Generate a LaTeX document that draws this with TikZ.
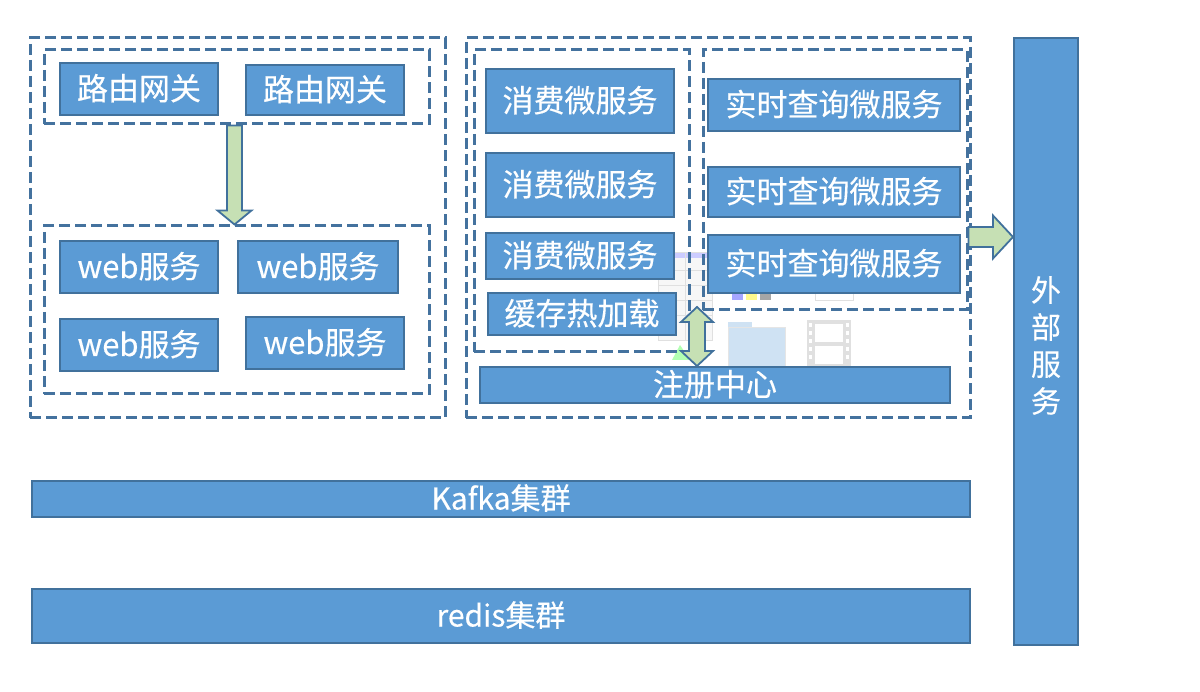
\documentclass[tikz,border=0pt]{standalone}
\usepackage{fontspec}
\setmainfont{Noto Sans CJK SC}[FakeBold=0.35]
\usetikzlibrary{calc,fit}
\definecolor{svcfill}{HTML}{5B9BD5}
\definecolor{svcline}{HTML}{41719C}
\definecolor{dashline}{HTML}{44729E}
\definecolor{arrfill}{HTML}{C6E0B4}
\definecolor{iconblue}{HTML}{CFE2F3}
\begin{document}
\begin{tikzpicture}[x=1pt,y=-1pt,
  svc/.style={draw=svcline, line width=2pt, fill=svcfill, inner sep=0pt},
  grp/.style={draw=dashline, line width=3pt, dash pattern=on 11pt off 5pt, inner sep=0pt},
  blk/.style={draw=svcline, line width=1.8pt, fill=arrfill, line join=miter},
  lbl/.style={text=white, inner sep=0pt, font=\fontsize{31}{36}\selectfont},
  faint/.style={draw=black!12, line width=0.8pt}]
\useasboundingbox (0,0) rectangle (1200,692);
% faint background icons
\fill[black!3] (658,252) rectangle (712,340);
\fill[blue!20] (658,252) rectangle (712,258);
\draw[faint] (658,252) rectangle (712,340);
\foreach \yy in {270,285,300,315} \draw[faint] (658,\yy) -- (712,\yy);
\draw[faint] (685,252) -- (685,340);
\fill[green!30] (672,360) -- (680,345) -- (690,360) -- cycle;
\fill[blue!35] (732,292) rectangle (743,300);
\fill[yellow!45] (746,292) rectangle (757,300);
\fill[black!35] (760,292) rectangle (771,300);
\draw[faint] (815,292) rectangle (853,300);
\fill[iconblue] (728,322) rectangle (752,330);
\fill[iconblue] (728,327) rectangle (785,367);
\draw[black!10] (728,327) rectangle (785,367);
\fill[black!12] (807,320) rectangle (851,367);
\fill[white] (815,324) rectangle (843,342);
\fill[white] (815,346) rectangle (843,364);
\foreach \yy in {323,331,339,347,355} {\fill[white] (809,\yy) rectangle (812,\yy+4); \fill[white] (846,\yy) rectangle (849,\yy+4);}
% groups
\node[grp, fit={(30,38) (445,418)}] (grpL) {};
\node[grp, fit={(44,50) (429,124)}] (grpGW) {};
\node[grp, fit={(44,226) (429,394)}] (grpWeb) {};
\node[grp, fit={(466,38) (970,418)}] (grpR) {};
\node[grp, fit={(474,50) (689,352)}] (grpC) {};
\node[grp, fit={(703,50) (967,310)}] (grpQ) {};
% services
\node[svc, fit={(60,63) (218,115)}] (g1) {};
\node[svc, fit={(246,65) (404,115)}] (g2) {};
\node[svc, fit={(60,241) (218,293)}] (w1) {};
\node[svc, fit={(238,241) (398,293)}] (w2) {};
\node[svc, fit={(60,319) (218,371)}] (w3) {};
\node[svc, fit={(246,317) (404,369)}] (w4) {};
\node[svc, fit={(486,69) (674,133)}] (c1) {};
\node[svc, fit={(486,153) (674,217)}] (c2) {};
\node[svc, fit={(486,233) (674,279)}] (c3) {};
\node[svc, fit={(488,293) (676,335)}] (cache) {};
\node[svc, fit={(708,79) (960,131)}] (q1) {};
\node[svc, fit={(708,167) (960,217)}] (q2) {};
\node[svc, fit={(708,235) (960,293)}] (q3) {};
\node[svc, fit={(480,367) (950,403)}] (reg) {};
\node[svc, fit={(32,481) (970,517)}] (kafka) {};
\node[svc, fit={(32,589) (970,643)}] (redis) {};
\node[svc, fit={(1014,38) (1078,645)}] (ext) {};
% labels
\foreach \n/\t in {g1/路由网关, g2/路由网关, w1/web服务, w2/web服务, w3/web服务, w4/web服务,
  c1/消费微服务, c2/消费微服务, c3/消费微服务, cache/缓存热加载,
  q1/实时查询微服务, q2/实时查询微服务, q3/实时查询微服务, reg/注册中心}
  \node[lbl, anchor=base] (\n-lbl) at ($(\n.center)+(0,11)$) {\t};
\node[lbl, anchor=base, font=\fontsize{30}{36}\selectfont] (kafka-lbl) at ($(kafka.center)+(0,10.5)$) {Kafka集群};
\node[lbl, anchor=base, font=\fontsize{30}{36}\selectfont] (redis-lbl) at ($(redis.center)+(0,10.5)$) {redis集群};
\node[lbl, align=center, font=\fontsize{30}{37}\selectfont] (ext-lbl) at ($(ext.center)+(0,4)$) {外\\部\\服\\务};
% down arrow gateway -> web
\coordinate (a1) at ($(grpGW.south)+(-2,0)$);
\coordinate (a2) at ($(grpWeb.north)+(-2,0)$);
\draw[blk] ($(a1)+(-7.5,0)$) -- ($(a2)+(-7.5,-14)$) -- ($(a2)+(-17,-14)$) -- (a2)
  -- ($(a2)+(17,-14)$) -- ($(a2)+(7.5,-14)$) -- ($(a1)+(7.5,0)$) -- cycle;
% right arrow query -> external
\coordinate (b1) at ($(grpQ.east)+(0,57)$);
\coordinate (b2) at (ext.west |- b1);
\draw[blk] ($(b1)+(0,-10)$) -- ($(b2)+(-20,-10)$) -- ($(b2)+(-20,-21.5)$) -- (b2)
  -- ($(b2)+(-20,21.5)$) -- ($(b2)+(-20,10)$) -- ($(b1)+(0,10)$) -- cycle;
% double arrow cache <-> registry
\coordinate (d1) at (697,307);
\coordinate (d2) at (reg.north -| d1);
\draw[blk] (d1) -- ($(d1)+(16,15)$) -- ($(d1)+(8,15)$) -- ($(d2)+(8,-15)$) -- ($(d2)+(16,-15)$) -- (d2)
  -- ($(d2)+(-16,-15)$) -- ($(d2)+(-8,-15)$) -- ($(d1)+(-8,15)$) -- ($(d1)+(-16,15)$) -- cycle;
\end{tikzpicture}
\end{document}
